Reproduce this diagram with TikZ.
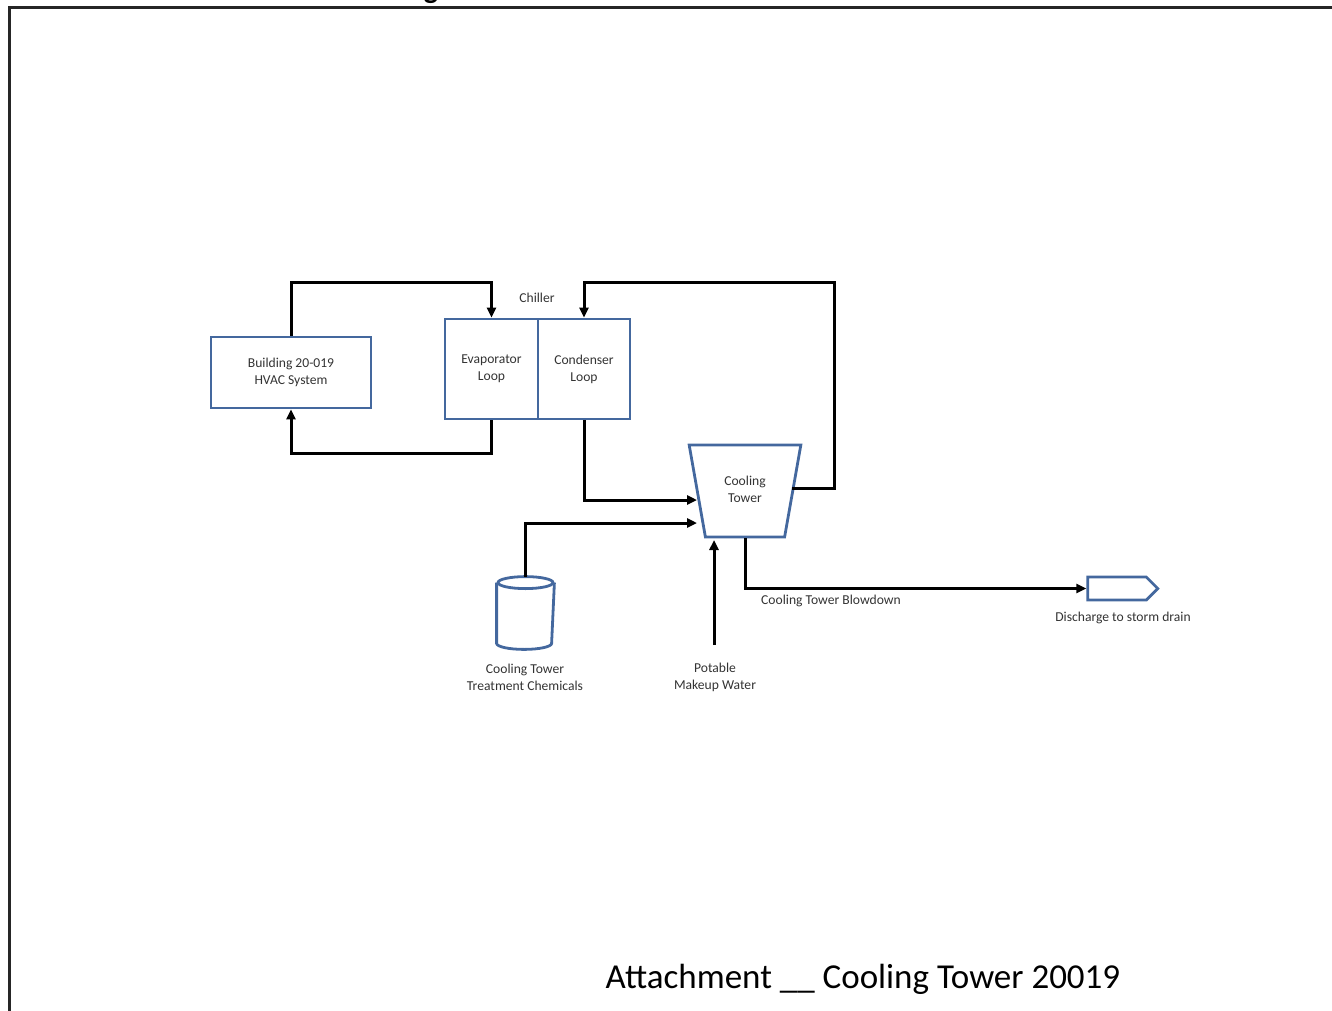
\documentclass[tikz,border=0pt]{standalone}
\usepackage{fontspec}
\setmainfont{Carlito}
\usepackage{xcolor}
\usetikzlibrary{arrows.meta}
\usetikzlibrary{shapes.geometric}
\usetikzlibrary{shapes.symbols}
\definecolor{unitblue}{RGB}{68,104,158}
\definecolor{labelgray}{RGB}{51,51,51}
\begin{document}
\begin{tikzpicture}[x=1pt, y=-1pt,
  every node/.style={font=\fontsize{13.6}{17}\selectfont, text=labelgray, align=center},
  unit/.style={draw=unitblue, line width=2.8pt, inner sep=0pt},
  flow/.style={draw=black, line width=3pt, -{Triangle[length=10pt, width=9pt]}}]
  \useasboundingbox (0,0) rectangle (1332,1011);
  % page frame, heading cut off at the top
  \draw[line width=3pt, black!85] (9,1011) -- (9,8) -- (1332,8);
  \node[font=\bfseries\fontsize{30}{30}\selectfont, text=black, anchor=base, inner sep=0pt] (heading) at (431,-1) {g};
  % units
  \node[unit, minimum width=160pt, minimum height=71pt] (bldg) at (291,372.5) {Building 20-019\\HVAC System};
  \node[unit, minimum width=93pt, minimum height=100pt] (evap) at (491.5,369) {Evaporator\\Loop};
  \node[unit, minimum width=92pt, minimum height=100pt] (cond) at (584,369) {Condenser\\Loop};
  \node (chiller) at (537,298) {Chiller};
  \node[unit, trapezium, shape border rotate=180, trapezium angle=76, trapezium stretches=true,
        minimum width=112pt, minimum height=92pt] (tower) at (745,491)
        {\raisebox{3pt}{\begin{tabular}{@{}c@{}}Cooling\\Tower\end{tabular}}};
  \node[unit, draw=none, minimum width=55pt, minimum height=70pt] (chem) at (525.5,613) {};
  \draw[unit] (chem.north) ++(0,6) ellipse[x radius=27.5, y radius=6];
  \draw[unit] ([yshift=-6pt]chem.north west) -- ([yshift=6pt]chem.south west)
    arc[start angle=180, end angle=0, x radius=27.5, y radius=6] -- ([yshift=-6pt]chem.north east);
  \node[unit, signal, signal to=east, signal pointer angle=90, minimum width=70pt, minimum height=23pt] (drain) at (1117,588.5) {};
  % labels
  \node (chemlabel) at (525,677) {Cooling Tower\\Treatment Chemicals};
  \node (pwlabel) at (715,677) {Potable\\Makeup Water};
  \node (bdlabel) at (831,601) {Cooling Tower Blowdown};
  \node (drainlabel) at (1123,618) {Discharge to storm drain};
  \node[font=\fontsize{35}{42}\selectfont, text=black] (title) at (863,979) {Attachment \_\_ Cooling Tower 20019};
  % inlets
  \coordinate (inA) at (697,500);
  \coordinate (inB) at (697,523);
  \coordinate (inC) at (714,540);
  \coordinate (pw) at (714,645);
  % connectors
  \draw[flow] (bldg.north) |- ([yshift=35pt]evap.north) -- (evap.north);
  \draw[flow] (evap.south) -- ++(0,33) -| (bldg.south);
  \draw[flow] (cond.south) |- (inA);
  \draw[flow] (tower.east) ++(-2,-3) -- ++(42,0) |- ([yshift=35pt]cond.north) -- (cond.north);
  \draw[flow] (chem.north) |- (inB);
  \draw[flow] (pw) -- (inC);
  \draw[flow] (tower.south) |- (drain.west);
\end{tikzpicture}
\end{document}
